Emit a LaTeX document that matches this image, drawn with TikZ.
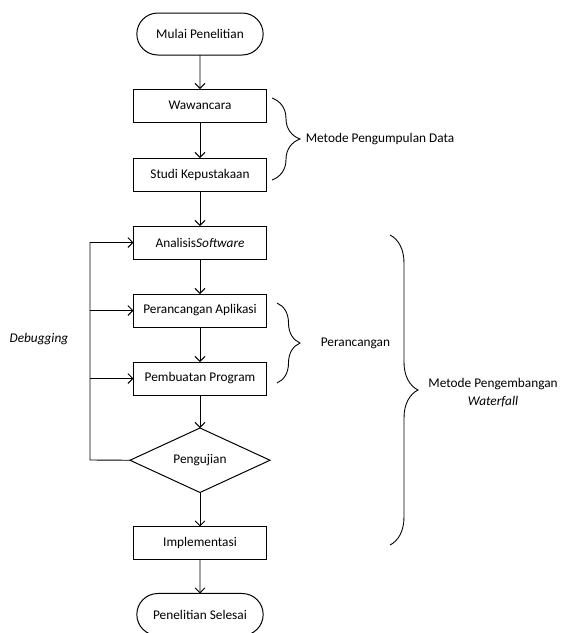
\documentclass[tikz,border=0pt]{standalone}
\usepackage{fontspec}
\setmainfont{Carlito}
\usetikzlibrary{arrows.meta,positioning,decorations.pathreplacing,shapes.misc,shapes.geometric}

\begin{document}
\begin{tikzpicture}
      [
        x=1pt, y=-1pt,
        -{Straight Barb[length=5pt, width=10pt]},
        line width=0.9pt,
        font=\fontsize{13.3}{16}\selectfont,
        ProcBlock/.style={draw, -, line width=1pt, minimum width=133pt, minimum height=33pt, inner sep=2pt, outer sep=0pt},
        TermBlock/.style={draw, -, line width=1pt, rounded rectangle, minimum width=133pt, minimum height=42pt, outer sep=0pt},
        TestBlock/.style={draw, -, line width=1pt, diamond, minimum width=140pt, minimum height=64pt, inner sep=0pt, outer sep=0pt},
        Brace/.style={-, line width=0.9pt, decorate, decoration={brace, amplitude=#1}},
        Brace/.default=26pt,
      ]

      \useasboundingbox (0,0) rectangle (563,633);

      \node [TermBlock] (mulai) at (200,34) {Mulai Penelitian};
      \node [ProcBlock, below=34pt of mulai] (waw) {Wawancara};
      \node [ProcBlock, below=36pt of waw] (studi) {Studi Kepustakaan};
      \node [ProcBlock, below=35pt of studi] (analisis) {Analisis\textit{Software}};
      \node [ProcBlock, below=35pt of analisis] (rancang) {Perancangan Aplikasi};
      \node [ProcBlock, below=35pt of rancang] (buat) {Pembuatan Program};
      \node [TestBlock, below=33pt of buat] (uji) {Pengujian};
      \node [ProcBlock, below=34pt of uji] (impl) {Implementasi};
      \node [TermBlock, below=34pt of impl] (selesai) {Penelitian Selesai};

      \draw (mulai) -- (waw);
      \draw (waw) -- (studi);
      \draw (studi) -- (analisis);
      \draw (analisis) -- (rancang);
      \draw (rancang) -- (buat);
      \draw (buat) -- (uji);
      \draw (uji) -- (impl);
      \draw (impl) -- (selesai);

      % debugging loop
      \coordinate (loop) at (90,460);
      \draw (uji.west) -- (loop) |- (analisis.west);
      \draw (loop |- rancang.west) -- (rancang.west);
      \draw (loop |- buat.west) -- (buat.west);
      \node [anchor=east] (debug) at (72,339) {\textit{Debugging}};

      % braces
      \draw [Brace=28pt] (272,98) -- (272,180) node [midway, right=30pt, anchor=west] (kumpul) {Metode Pengumpulan Data};
      \draw [Brace=23pt] (277,303) -- (277,383) node [midway, right=40pt, anchor=west] (desain) {Perancangan};
      \draw [Brace=28pt] (390,235) -- (390,545) node [midway, right=38pt, anchor=west, align=center, inner xsep=0pt, yshift=-3pt] (waterfall) {Metode Pengembangan\\[2pt]\textit{Waterfall}};
    \end{tikzpicture}
\end{document}
